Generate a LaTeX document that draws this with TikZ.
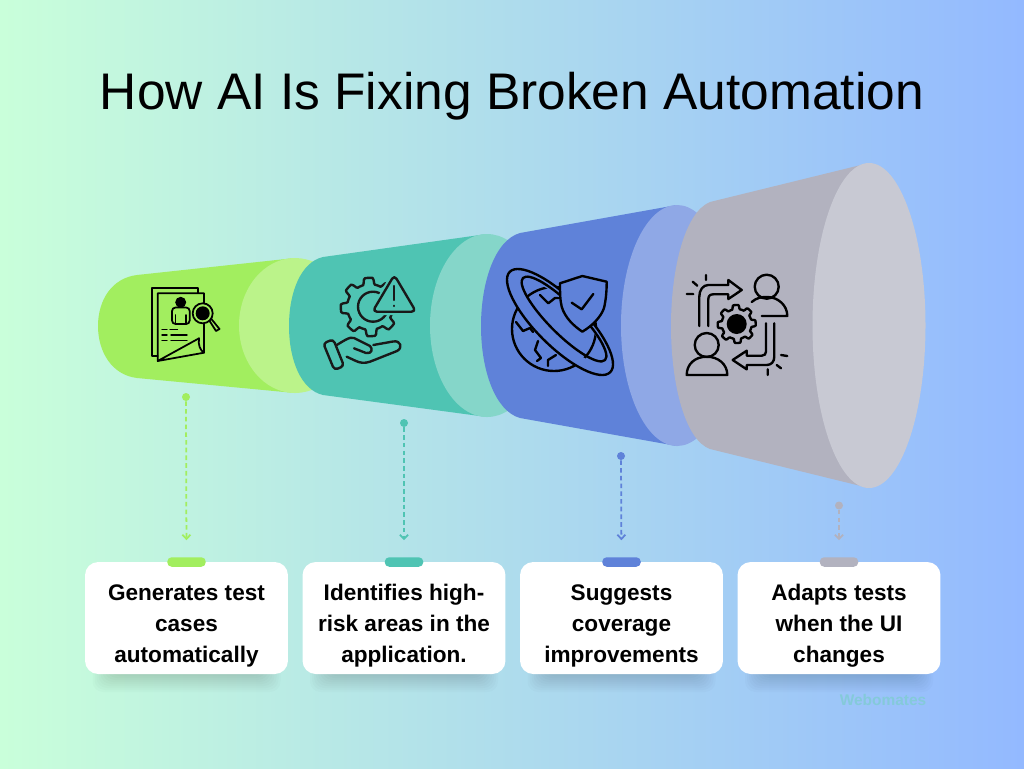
\documentclass[tikz,border=0pt]{standalone}
\usepackage{fontspec}
\setmainfont{Liberation Sans}
\usetikzlibrary{arrows.meta,calc}

\definecolor{bgleft}{HTML}{C9FFDA}
\definecolor{bgright}{HTML}{93B9FF}
\definecolor{limeA}{HTML}{A2EE5F}
\definecolor{limeB}{HTML}{BBF38A}
\definecolor{tealA}{HTML}{4FC4B3}
\definecolor{tealB}{HTML}{85D6C9}
\definecolor{blueA}{HTML}{5F82D9}
\definecolor{blueB}{HTML}{8FA8E6}
\definecolor{greyA}{HTML}{B2B2BF}
\definecolor{greyB}{HTML}{C8C9D3}
\definecolor{markcol}{HTML}{84CAD9}

\begin{document}
\begin{tikzpicture}[x=0.02cm,y=-0.02cm,>={Straight Barb[length=2.4pt,width=4.6pt]},
  card/.style={fill=white,rounded corners=7.5pt,minimum width=4.06cm,minimum height=2.24cm,
    inner sep=0pt,align=center,font=\fontsize{12.85}{17.6}\selectfont\bfseries},
  tab/.style={fill=#1,rounded corners=2.5pt,minimum width=0.77cm,minimum height=0.19cm,inner sep=0pt},
  dot/.style={circle,fill=#1,inner sep=0pt,minimum size=0.16cm},
  drop/.style={->,#1,line width=1pt,dash pattern=on 2.6pt off 1.8pt,shorten >=9.5pt},
  icon/.style={draw=black,line width=1.35pt,line join=round,line cap=round},
  thin icon/.style={icon,line width=1pt}]

\shade[left color=bgleft,right color=bgright] (0,0) rectangle (1024,768);
\useasboundingbox (0,0) rectangle (1024,768);

\node[anchor=base,font=\fontsize{29.3}{30}\selectfont](title) at (512,109) {How AI Is Fixing Broken Automation};

% cones, small to large
\fill[limeA] (137,275) .. controls (112,278) and (98,300) .. (98,326) .. controls (98,352) and (112,375) .. (137,378) -- (295,393) -- (295,258) -- cycle;
\fill[limeB] (295,325.5) ellipse [x radius=56,y radius=67.5];
\fill[tealA] (323,257) .. controls (301,262) and (289,292) .. (289,326) .. controls (289,360) and (301,390) .. (323,395) -- (487,417) -- (487,234) -- cycle;
\fill[tealB] (487,325.5) ellipse [x radius=57,y radius=91.5];
\fill[blueA] (520,233) .. controls (495,240) and (481,282) .. (481,326) .. controls (481,370) and (495,411) .. (520,418) -- (677,446) -- (677,205) -- cycle;
\fill[blueB] (677,325.5) ellipse [x radius=56,y radius=120.5];
\fill[greyA] (710,202) .. controls (685,212) and (671,268) .. (671,326) .. controls (671,384) and (685,440) .. (710,449) -- (869,488) -- (869,163) -- cycle;
\fill[greyB] (869,325.5) ellipse [x radius=56.5,y radius=162.5];

% icon 1
\draw[thin icon] (157.7,356) -- (152.3,356) -- (152.3,287.7) -- (198.3,287.7) -- (198.3,293);
\draw[thin icon] (199,338.3) -- (157.7,361) -- (157.7,293.3) -- (204,293.3) -- (204,352.7) -- (157.7,361);
\draw[thin icon] (199,338.3) .. controls (198,345) and (200,350) .. (204,352.7);
\fill (180.7,302.3) circle [radius=5.5];
\draw[thin icon,rounded corners=2pt] (172,324) -- (172,307.5) -- (189.7,307.5) -- (189.7,324) -- cycle;
\draw[thin icon] (175.5,315) -- (175.5,324) (186,315) -- (186,324);
\draw[thin icon,line width=.8pt] (162,329.3) -- (167,329.3) (170,329.3) -- (177.5,329.3)
  (162,335) -- (167,335) (171,335) -- (187,335) (162,340.3) -- (167,340.3) (171,340.3) -- (187,340.3);
\draw[thin icon] (209,320) -- (216,331) -- (219.5,329) -- (211,318.5);
\draw[thin icon,fill=limeA] (202.7,313.3) circle [radius=10];
\fill (202.7,313.3) circle [radius=7];

% icon 2
\draw[icon,draw=black!90] plot[domain=0:360,samples=145,shift={(370,307)}] (\x:{26+3.2*max(-1,min(1,3*cos(8*\x+22)))}) -- cycle;
\draw[icon,draw=black!90] (373,306.7) circle [radius=15];
\draw[fill=tealA,draw=tealA,line width=4pt,line join=round] (394.3,275) -- (415,311.7) -- (373.3,311.7) -- cycle;
\draw[icon,draw=black!90,rounded corners=2.5pt] (394.3,275) -- (416,311.7) -- (372.5,311.7) -- cycle;
\draw[icon,draw=black!90] (394.3,286) -- (394.3,300) (394.3,305.7) -- (394.3,306);
\draw[icon,draw=black!90,rounded corners=2pt] (323.3,343.3) -- (333.3,339.3) -- (344,366) -- (334.3,370) -- cycle;
\draw[icon,draw=black!90] (336.7,345) .. controls (342,342) and (350,336) .. (354,338) .. controls (360,341) and (366,344) .. (370,346)
  .. controls (373,349) and (372,354) .. (366,353) -- (354,348.3);
\draw[icon,draw=black!90] (373.3,345) -- (393,341.5) .. controls (401,340) and (403,348) .. (397,351) -- (370,361.7)
  .. controls (365,363.5) and (360,363) .. (356,361) -- (346.7,356.7);

% icon 3
\draw[icon] (554,329) circle [radius=42];
\draw[icon] (540,295) -- (548.3,303.3) -- (555,298) -- (560,298);
\draw[icon] (516,322) -- (523,331) -- (530,328) -- (533,332);
\draw[icon] (538,341) -- (535,350) -- (541,358) -- (537,361);
\draw[icon] (548,366) -- (548,360) -- (556,355);
\fill[blueA,even odd rule,rotate around={-45:(560,322)}] (560,322) ellipse [x radius=71,y radius=24] (564,319) ellipse [x radius=58,y radius=15];
\draw[icon,rotate around={-45:(560,322)}] (560,322) ellipse [x radius=71,y radius=24];
\draw[icon,rotate around={-45:(564,319)}] (564,319) ellipse [x radius=58,y radius=15];
\draw[icon,fill=blueA] (582.3,276) -- (560,283.3) .. controls (560,292) and (560,300) .. (561.7,306.7) .. controls (565,318) and (574,326) .. (582.3,331.7)
  .. controls (592,326) and (601,317) .. (604,308) .. controls (606,300) and (606.7,290) .. (606.7,281.7) -- cycle;
\draw[icon] (571.7,302.7) -- (581.7,309.3) -- (593.3,294);

% icon 4
\draw[icon] (686.7,294) -- (693.3,294) (692.7,281.7) -- (697.3,285.7) (706,275) -- (706,280);
\draw[icon] (699.3,326) -- (699.3,296.7) .. controls (699.3,290) and (703,285) .. (708.3,285) -- (728.3,285) -- (728.3,280) -- (741.7,290)
  -- (728.3,299) -- (728.3,294.3) -- (713.3,294.3) .. controls (710,294.3) and (708.3,296) .. (708.3,299.3) -- (708.3,326);
\draw[icon] (766.7,286.7) circle [radius=12];
\draw[icon] (751.7,302) .. controls (756,298) and (762,296.5) .. (768,297) .. controls (778,297.5) and (787.3,305) .. (787.3,316) -- (761.7,316);
\draw[icon] plot[domain=0:360,samples=145,shift={(736.7,324)}] (\x:{17+2*max(-1,min(1,3*cos(8*\x+22)))}) -- cycle;
\fill (736.7,324) circle [radius=10];
\draw[icon] (706.7,345) circle [radius=12];
\draw[icon] (686.7,375) .. controls (686.7,364) and (695,356.7) .. (706.7,356.7) .. controls (718,356.7) and (727.3,364) .. (727.3,375) -- cycle;
\draw[icon] (774.3,323.3) -- (774.3,356.7) .. controls (774.3,362) and (771,365) .. (766.7,365) -- (746.7,365) -- (746.7,369.3) -- (732.7,360)
  -- (746.7,350.7) -- (746.7,355.7) -- (761.7,355.7) .. controls (764.5,355.7) and (766,354) .. (766,351.7) -- (766,323.3);
\draw[icon] (781,355) -- (787.3,356) (776.7,365) -- (781,368.3) (767.7,369.3) -- (767.7,375);

% soft shadow under the cards
\foreach \c in {186.5,404,621.5,839}
  \foreach \s in {0,2,...,18}
    \fill[black,opacity=.016,rounded corners=6pt] ($(\c,660)+(-94+\s,0)$) rectangle ($(\c,674)+(94-\s,18-\s)$);

\node[card](cardA) at (186.5,618) {\rule{0pt}{17.6pt}Generates test\\cases\\automatically};
\node[card](cardB) at (404,618) {\rule{0pt}{17.6pt}Identifies high-\\risk areas in the\\application.};
\node[card](cardC) at (621.5,618) {\rule{0pt}{17.6pt}Suggests\\coverage\\improvements};
\node[card](cardD) at (839,618) {\rule{0pt}{17.6pt}Adapts tests\\when the UI\\changes};

\node[tab=limeA](tabA) at (186.5,562) {};
\node[tab=tealA](tabB) at (404,562) {};
\node[tab=blueA](tabC) at (621.5,562) {};
\node[tab=greyA](tabD) at (839,562) {};

\node[dot=limeA](dotA) at (186,397) {};
\node[dot=tealA](dotB) at (404,423) {};
\node[dot=blueA](dotC) at (621,456) {};
\node[dot=greyA](dotD) at (839,505.5) {};

\path
(dotA) edge[drop=limeA] (tabA)
(dotB) edge[drop=tealA] (tabB)
(dotC) edge[drop=blueA] (tabC)
(dotD) edge[drop=greyA] (tabD);

\node[font=\fontsize{8.8}{10}\selectfont\bfseries,text=markcol](mark) at (883,700) {Webomates};

\end{tikzpicture}
\end{document}
